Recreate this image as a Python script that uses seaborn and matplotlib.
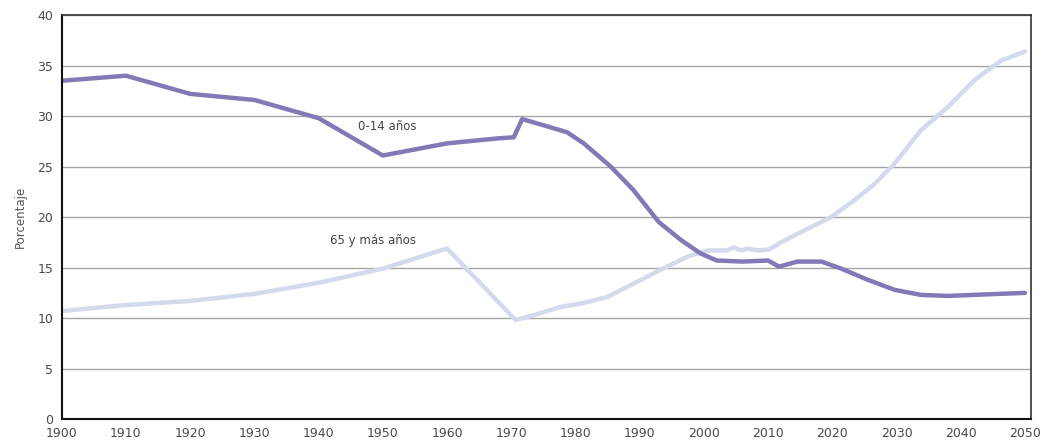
import matplotlib
matplotlib.use("Agg")
import matplotlib.pyplot as plt
import seaborn as sns
import pandas as pd

# Share of population by age group (%)
years_young = [1900, 1910, 1920, 1930, 1940, 1950, 1960, 1968, 1970.4, 1971.7,
               1975, 1978.7, 1981.3, 1985.5, 1989, 1993, 1996.5, 1999.5, 2002,
               2006, 2010, 2011.7, 2014.6, 2018.3, 2021.4, 2025.5, 2029.7, 2033.8,
               2038, 2042, 2046, 2050]
young = [33.5, 34.0, 32.2, 31.6, 29.8, 26.1, 27.3, 27.8, 27.9, 29.7,
         29.1, 28.4, 27.3, 25.0, 22.7, 19.5, 17.7, 16.4, 15.7,
         15.6, 15.7, 15.1, 15.6, 15.6, 14.9, 13.8, 12.8, 12.3,
         12.2, 12.3, 12.4, 12.5]

years_old = [1900, 1910, 1920, 1930, 1940, 1950, 1960, 1970.7, 1973.5, 1977.7,
             1981.3, 1985, 1989, 1993.3, 1997.5, 2000.6, 2003.5, 2004.7, 2005.8,
             2006.8, 2008.4, 2010.2, 2012, 2015.7, 2019.8, 2023.5, 2026.6, 2029.7,
             2033.8, 2038, 2042.2, 2046.3, 2050]
old = [10.7, 11.3, 11.7, 12.4, 13.5, 14.9, 16.9, 9.8, 10.3, 11.1,
       11.5, 12.1, 13.4, 14.8, 16.1, 16.7, 16.7, 17.0, 16.7,
       16.9, 16.7, 16.8, 17.5, 18.7, 20.0, 21.7, 23.3, 25.3,
       28.6, 30.9, 33.6, 35.5, 36.4]

df_young = pd.DataFrame({"year": years_young, "pct": young})
df_old = pd.DataFrame({"year": years_old, "pct": old})

sns.set_style("white")
plt.rcParams['font.family'] = ['DejaVu Sans']

fig, ax = plt.subplots(figsize=(10.46, 4.44), dpi=100)
fig.subplots_adjust(left=0.059, right=0.986, top=0.966, bottom=0.056)

sns.lineplot(data=df_old, x="year", y="pct", ax=ax, color="#d4daed", linewidth=3.2,
             solid_joinstyle="round", solid_capstyle="round")
sns.lineplot(data=df_young, x="year", y="pct", ax=ax, color="#8479b6", linewidth=3.2,
             solid_joinstyle="round", solid_capstyle="round")

ax.set_xlim(1900, 2051)
ax.set_ylim(0, 40)
ax.set_xticks(range(1900, 2051, 10))
ax.set_yticks(range(0, 41, 5))
ax.yaxis.grid(True, color="#a6a6a6", linewidth=1)
ax.set_axisbelow(True)

for side in ["left", "bottom"]:
    ax.spines[side].set_color("#111111")
    ax.spines[side].set_linewidth(1.5)
for side in ["top", "right"]:
    ax.spines[side].set_color("#333333")
    ax.spines[side].set_linewidth(1.2)

ax.tick_params(axis="both", direction="out", length=4, width=1, color="#111111",
               labelsize=9, labelcolor="#4a4a4a", pad=2)
ax.set_xlabel("")
ax.set_ylabel("Porcentaje", fontsize=8.5, color="#555555", labelpad=8)

ax.text(1946.2, 28.6, "0-14 años", fontsize=8.5, color="#444444")
ax.text(1941.8, 17.3, "65 y más años", fontsize=8.5, color="#444444")

fig.savefig("out.png", dpi=100)
